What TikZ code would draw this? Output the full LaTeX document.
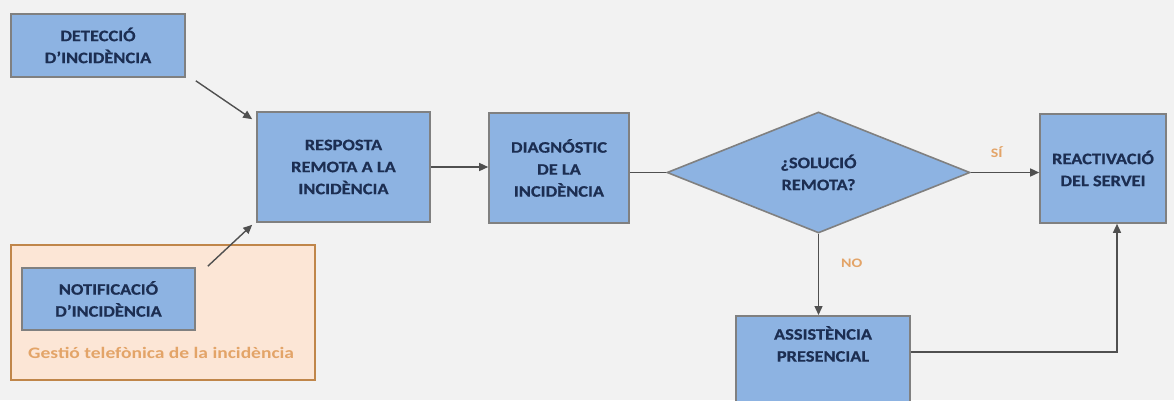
\documentclass[tikz,border=0pt]{standalone}
\usepackage{fontspec}
\setmainfont{Carlito}
\newfontfamily\boxfont[FakeStretch=1.15,FakeBold=0.6]{Carlito}
\newfontfamily\lblfont[FakeStretch=1.22]{Carlito}
\usetikzlibrary{shapes.geometric,arrows.meta}
\definecolor{bg}{HTML}{F2F2F2}
\definecolor{boxfill}{HTML}{8DB3E2}
\definecolor{boxline}{HTML}{808080}
\definecolor{navy}{HTML}{1C2E52}
\definecolor{lineclr}{HTML}{505050}
\definecolor{orangetxt}{HTML}{E3A468}
\definecolor{framefill}{HTML}{FCE6D6}
\definecolor{frameline}{HTML}{C0864A}
\tikzset{
  box/.style={draw=boxline, line width=1.6pt, fill=boxfill, inner sep=0pt,
    text=navy, font=\boxfont\fontsize{16}{22}\selectfont\bfseries, align=center},
  txt/.style={inner sep=0pt, text=navy, font=\boxfont\fontsize{16}{22}\selectfont\bfseries, align=center},
  arr/.style={draw=lineclr, line width=1.4pt, -{Triangle[length=9pt,width=8pt]}},
  plain/.style={draw=lineclr, line width=1.4pt},
  lbl/.style={inner sep=0pt, text=orangetxt, font=\lblfont\fontsize{13}{15}\selectfont\bfseries},
}
\begin{document}
\begin{tikzpicture}[x=1pt,y=-1pt]
\fill[bg] (0,0) rectangle (1174,400);
\useasboundingbox (0,0) rectangle (1174,400);
% orange frame
\node[draw=frameline, line width=1.8pt, fill=framefill, minimum width=304pt, minimum height=135pt, inner sep=0pt] (frame) at (163,312.5) {};
\node[lbl, font=\lblfont\fontsize{16}{18}\selectfont\bfseries, anchor=west] (framelbl) at (28,353) {Gestió telefònica de la incidència};
% boxes
\node[box, minimum width=174pt, minimum height=63pt] (det) at (98,45.5) {DETECCIÓ\\D’INCIDÈNCIA};
\node[box, minimum width=173pt, minimum height=62pt] (not) at (108.5,299) {NOTIFICACIÓ\\D’INCIDÈNCIA};
\node[box, minimum width=173pt, minimum height=110pt] (resp) at (343.5,167) {RESPOSTA\\REMOTA A LA\\INCIDÈNCIA};
\node[box, minimum width=140pt, minimum height=110pt] (diag) at (559,168) {DIAGNÓSTIC\\DE LA\\INCIDÈNCIA};
\node[box, diamond, aspect=2.5, minimum width=303pt, minimum height=121pt] (dia) at (818.5,172.5) {¿SOLUCIÓ\\REMOTA?};
\node[box, minimum width=126pt, minimum height=109pt] (react) at (1103,168.5) {REACTIVACIÓ\\DEL SERVEI};
\node[box, minimum width=174pt, minimum height=100pt, anchor=north] (ass) at (823,315) {};
\node[txt, anchor=north] (asslbl) at (823,326) {ASSISTÈNCIA\\PRESENCIAL};
% connectors
\draw[arr] ([shift={(10,3)}]det.south east) -- ([shift={(-4,8)}]resp.north west);
\draw[arr] ([shift={(12,-1)}]not.north east) -- ([shift={(-4,2)}]resp.south west);
\draw[arr] (resp.east) -- (resp.east -| diag.west);
\draw[plain] (dia.west -| diag.east) -- (dia.west);
\draw[arr] (dia.east) -- (dia.east -| react.west) node[lbl, pos=0.38, above=14pt] (si) {SÍ};
\draw[arr] (dia.south) -- (dia.south |- ass.north) node[lbl, pos=0.36, right=22pt] (no) {NO};
\draw[arr] ([shift={(0,37)}]ass.north east) -| ([shift={(14,0)}]react.south);
\end{tikzpicture}
\end{document}
